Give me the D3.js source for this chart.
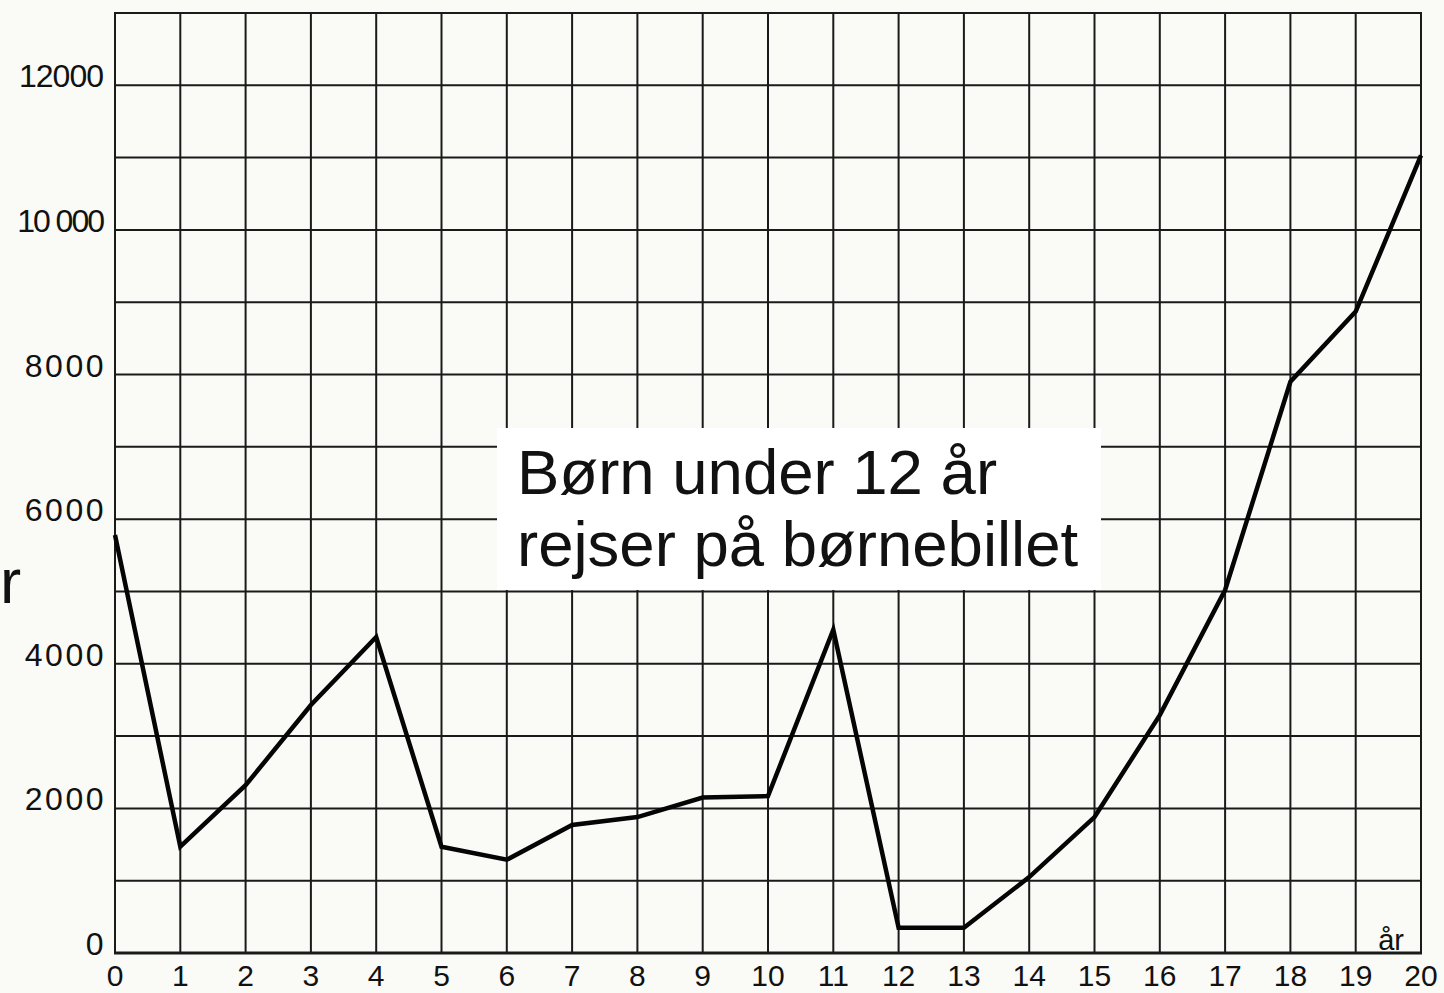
<!DOCTYPE html>
<html>
<head>
<meta charset="utf-8">
<script src="https://cdn.jsdelivr.net/npm/d3@7"></script>
<style>
  html, body { margin: 0; padding: 0; background: #fafaf7; }
  svg { display: block; }
  text { font-family: "Liberation Sans", Arial, Helvetica, sans-serif; fill: #111; }
</style>
</head>
<body>
<svg id="chart" width="1444" height="993"></svg>
<script>
// Age in years (x) and number of travellers (y)
const ages = [0,1,2,3,4,5,6,7,8,9,10,11,12,13,14,15,16,17,18,19,20];
const travellers = [5780,1470,2320,3430,4370,1470,1290,1770,1880,2150,2170,4470,350,350,1050,1880,3290,5020,7900,8870,11030];
const yTickValues = [0,2000,4000,6000,8000,10000,12000];
const yTickLabels = ["0","2000","4000","6000","8000","10 000","12000"];
const xTickValues = ages;
const xAxisLabel = "år";
const annotationLines = ["Børn under 12 år", "rejser på børnebillet"];
const leftFragment = "r";

const svg = d3.select("#chart");

const x = d3.scaleLinear().domain([0, 20]).range([115, 1421]);
const y = d3.scaleLinear().domain([0, 13000]).range([953, 13]);

// Grid: vertical every year, horizontal every 1000
const gridY = d3.range(0, 13001, 1000);
svg.append("g").selectAll("line").data(gridY).join("line")
  .attr("x1", x(0) - 1).attr("x2", x(20) + 1)
  .attr("y1", d => y(d)).attr("y2", d => y(d))
  .attr("stroke", "#1a1a1a").attr("stroke-width", d => d === 0 ? 3 : 2);

svg.append("g").selectAll("line").data(xTickValues).join("line")
  .attr("x1", d => x(d)).attr("x2", d => x(d))
  .attr("y1", y(0)).attr("y2", y(13000))
  .attr("stroke", "#1a1a1a").attr("stroke-width", 2);

// Y labels
svg.append("g").selectAll("text").data(yTickValues).join("text")
  .attr("x", (d, i) => yTickLabels[i].length >= 5 ? 103 : 106)
  .attr("y", d => y(d) + 2)
  .attr("text-anchor", "end")
  .attr("font-size", 32)
  .attr("letter-spacing", (d, i) => yTickLabels[i].length === 5 ? "-1px" : (yTickLabels[i].length === 6 ? "-2px" : "2.5px"))
  .text((d, i) => yTickLabels[i]);

// X labels
svg.append("g").selectAll("text").data(xTickValues).join("text")
  .attr("x", d => x(d))
  .attr("y", 986)
  .attr("text-anchor", "middle")
  .attr("font-size", 30)
  .text(d => d);

// axis unit label
svg.append("text")
  .attr("x", 1404).attr("y", y(0) - 3)
  .attr("text-anchor", "end")
  .attr("font-size", 29)
  .text(xAxisLabel);

// Data line
const line = d3.line().x((d, i) => x(ages[i])).y(d => y(d));
svg.append("path")
  .datum(travellers)
  .attr("d", line)
  .attr("fill", "none")
  .attr("stroke", "#050505")
  .attr("stroke-width", 4.5)
  .attr("stroke-linejoin", "miter");

// Annotation box
svg.append("rect")
  .attr("x", 497).attr("y", 428)
  .attr("width", 604).attr("height", 162)
  .attr("fill", "#ffffff");

svg.append("g").selectAll("text").data(annotationLines).join("text")
  .attr("x", 517)
  .attr("y", (d, i) => 494 + i * 72)
  .attr("font-size", 63.5)
  .attr("fill", "#000")
  .text(d => d);

// Fragment at left edge
svg.append("text")
  .attr("x", 0).attr("y", 603)
  .attr("font-size", 63.5)
  .attr("fill", "#000")
  .text(leftFragment);
</script>
</body>
</html>
